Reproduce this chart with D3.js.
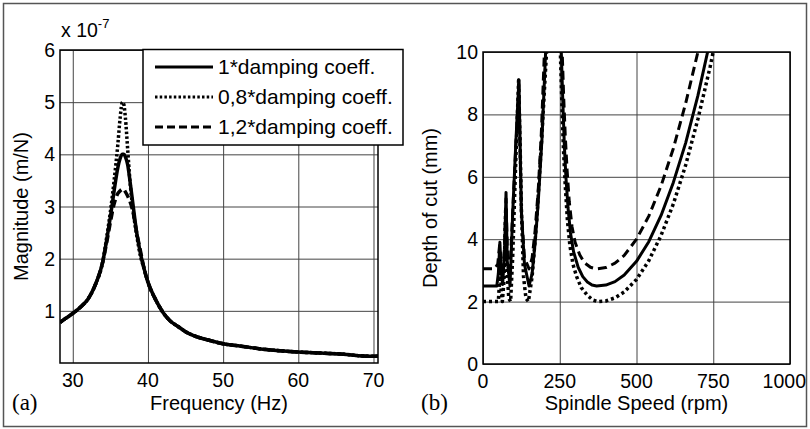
<!DOCTYPE html>
<html>
<head>
<meta charset="utf-8">
<script src="https://cdn.jsdelivr.net/npm/d3@7"></script>
<style>
  body { margin: 0; background: #fff; }
  text { font-family: Arial, "Liberation Sans", Helvetica, sans-serif; fill: #000; }
</style>
</head>
<body>
<div id="chart"></div>
<script>
// (a) frequency response, values in units of 1e-7 m/N
const freqHz = [28.3, 29, 30, 31, 32, 33, 34, 34.5, 35, 35.5, 36, 36.3, 36.6, 36.8, 37, 37.3, 37.6, 38, 38.5, 39, 39.5, 40, 41, 42, 43, 44, 45, 46, 48, 50, 52, 55, 58, 60, 63, 66, 68, 70, 70.6];
const magBase = [0.78, 0.85, 0.95, 1.07, 1.22, 1.5, 1.95, 2.35, 2.8, 3.3, 3.75, 3.92, 4.0, 4.0, 3.95, 3.8, 3.5, 3.05, 2.5, 2.1, 1.8, 1.55, 1.22, 0.97, 0.8, 0.7, 0.6, 0.53, 0.44, 0.37, 0.33, 0.27, 0.23, 0.21, 0.19, 0.17, 0.14, 0.13, 0.13];
const magLow = [0.78, 0.85, 0.95, 1.07, 1.22, 1.5, 1.95, 2.4, 2.9, 3.5, 4.2, 4.7, 5.0, 4.95, 4.7, 4.1, 3.5, 2.95, 2.45, 2.05, 1.8, 1.55, 1.22, 0.97, 0.8, 0.7, 0.6, 0.53, 0.44, 0.37, 0.33, 0.27, 0.23, 0.21, 0.19, 0.17, 0.14, 0.13, 0.13];
const magHigh = [0.78, 0.85, 0.95, 1.07, 1.22, 1.5, 1.95, 2.3, 2.7, 3.05, 3.25, 3.3, 3.33, 3.32, 3.28, 3.2, 3.1, 2.9, 2.5, 2.15, 1.8, 1.55, 1.22, 0.97, 0.8, 0.7, 0.6, 0.53, 0.44, 0.37, 0.33, 0.27, 0.23, 0.21, 0.19, 0.17, 0.14, 0.13, 0.13];

// (b) stability lobes
const speedBase = [0, 45, 50, 55, 59, 64, 70, 75, 79, 88, 97, 107, 117, 121, 125, 135, 150, 160, 170, 180, 192, 204, 212, 248, 255, 260, 265, 270, 277, 285, 295, 310, 325, 340, 355, 370, 400, 430, 460, 500, 540, 580, 620, 660, 700, 740];
const depthBase = [2.5, 2.5, 2.9, 3.9, 3.0, 2.55, 3.5, 5.5, 3.3, 2.5, 4.9, 7.1, 9.1, 7.0, 4.9, 3.2, 2.5, 2.9, 3.9, 5.2, 7.2, 10, 11.5, 11.5, 10, 8.4, 7.0, 6.0, 5.0, 4.2, 3.6, 3.1, 2.8, 2.63, 2.53, 2.5, 2.53, 2.64, 2.85, 3.29, 3.92, 4.76, 5.82, 7.08, 8.6, 10.37];
const speedLow = [0, 50, 53, 56, 59, 63, 68, 74, 78, 84, 90, 97, 105, 116, 121, 125, 132, 140, 148, 160, 175, 190, 207, 215, 245, 252, 257, 262, 268, 275, 283, 293, 305, 320, 340, 358, 375, 400, 430, 460, 500, 540, 580, 620, 660, 700, 740, 760];
const depthLow = [2.0, 2.0, 2.5, 3.6, 2.4, 2.0, 2.6, 5.0, 3.0, 2.1, 2.0, 3.5, 6.0, 9.1, 7.0, 5.0, 2.8, 2.1, 2.0, 2.8, 4.6, 7.0, 10, 11.5, 11.5, 10, 8.3, 6.9, 5.7, 4.6, 3.8, 3.2, 2.8, 2.45, 2.2, 2.05, 2.0, 2.02, 2.12, 2.31, 2.71, 3.31, 4.12, 5.13, 6.37, 7.85, 9.53, 10.5];
const speedHigh = [0, 38, 48, 54, 58, 64, 70, 75, 80, 88, 97, 107, 117, 121, 125, 135, 150, 160, 170, 180, 190, 200, 208, 250, 258, 263, 268, 274, 281, 290, 300, 315, 330, 350, 370, 400, 430, 460, 500, 540, 580, 620, 660, 700, 710];
const depthHigh = [3.05, 3.05, 3.2, 3.8, 3.2, 3.05, 3.7, 5.3, 3.4, 3.05, 4.9, 7.0, 8.9, 6.8, 4.9, 3.4, 3.05, 3.4, 4.3, 5.6, 7.4, 10, 11.5, 11.5, 10, 8.5, 7.3, 6.2, 5.2, 4.4, 3.9, 3.5, 3.25, 3.1, 3.05, 3.09, 3.23, 3.48, 4.0, 4.74, 5.71, 6.91, 8.35, 10.0, 10.5];

const legendLabels = ["1*damping coeff.", "0,8*damping coeff.", "1,2*damping coeff."];
const freqTicks = [30, 40, 50, 60, 70];
const magTicks = [1, 2, 3, 4, 5, 6];
const speedTicks = [0, 250, 500, 750, 1000];
const depthTicks = [0, 2, 4, 6, 8, 10];

// line styles: solid, dotted, dashed
const dashA = [null, "2.5,2.2", "8,4"];
const dashB = [null, "3,3", "9,5"];

let svg = d3
  .select("#chart")
  .append("svg")
  .attr("width", 810)
  .attr("height", 429);

// outer frame
svg
  .append("rect")
  .attr("x", 3.5)
  .attr("y", 3.5)
  .attr("width", 803)
  .attr("height", 423)
  .attr("fill", "none")
  .attr("stroke", "#555")
  .attr("stroke-width", 1.5);

function drawPanel(opts) {
  const x = d3.scaleLinear().domain(opts.xDomain).range([opts.left, opts.right]);
  const y = d3.scaleLinear().domain(opts.yDomain).range([opts.bottom, opts.top]);
  const g = svg.append("g");

  g.append("clipPath")
    .attr("id", opts.id + "-clip")
    .append("rect")
    .attr("x", opts.left)
    .attr("y", opts.top)
    .attr("width", opts.right - opts.left)
    .attr("height", opts.bottom - opts.top);

  // grid
  g.append("g")
    .attr("transform", "translate(0," + opts.bottom + ")")
    .call(d3.axisBottom(x).tickValues(opts.xTicks).tickSize(-(opts.bottom - opts.top)).tickFormat(""))
    .call((a) => a.select(".domain").remove())
    .selectAll("line")
    .attr("stroke", "#444")
    .attr("stroke-width", 1);
  g.append("g")
    .attr("transform", "translate(" + opts.left + ",0)")
    .call(d3.axisLeft(y).tickValues(opts.yTicks).tickSize(-(opts.right - opts.left)).tickFormat(""))
    .call((a) => a.select(".domain").remove())
    .selectAll("line")
    .attr("stroke", "#444")
    .attr("stroke-width", 1);

  // curves
  const line = d3
    .line()
    .curve(opts.curve)
    .x((d) => x(d[0]))
    .y((d) => y(d[1]));
  opts.series.forEach((s, i) => {
    g.append("path")
      .datum(d3.zip(s[0], s[1]))
      .attr("clip-path", "url(#" + opts.id + "-clip)")
      .attr("fill", "none")
      .attr("stroke", "#000")
      .attr("stroke-width", opts.widths[i])
      .attr("stroke-linejoin", "round")
      .attr("stroke-dasharray", opts.dash[i])
      .attr("d", line);
  });

  // box
  g.append("rect")
    .attr("x", opts.left)
    .attr("y", opts.top)
    .attr("width", opts.right - opts.left)
    .attr("height", opts.bottom - opts.top)
    .attr("fill", "none")
    .attr("stroke", "#000")
    .attr("stroke-width", 1.5);

  // tick labels (last one kept inside the frame)
  const lastX = opts.xTicks[opts.xTicks.length - 1];
  g.selectAll(".xlab")
    .data(opts.xTicks)
    .enter()
    .append("text")
    .attr("x", (d) => (opts.clampLast && d === lastX ? 806 : x(d)))
    .attr("y", opts.bottom + 24)
    .attr("text-anchor", (d) => (opts.clampLast && d === lastX ? "end" : "middle"))
    .style("font-size", "19.5px")
    .text((d) => d);
  g.selectAll(".ylab")
    .data(opts.yTicks)
    .enter()
    .append("text")
    .attr("x", opts.left - 5)
    .attr("y", (d) => y(d) + 7)
    .attr("text-anchor", "end")
    .style("font-size", "19.5px")
    .text((d) => d);

  // axis titles
  g.append("text")
    .attr("x", (opts.left + opts.right) / 2)
    .attr("y", 410)
    .attr("text-anchor", "middle")
    .style("font-size", "20px")
    .text(opts.xTitle);
  g.append("text")
    .attr("transform", "translate(" + opts.yTitleX + "," + (opts.top + opts.bottom) / 2 + ") rotate(-90)")
    .attr("text-anchor", "middle")
    .style("font-size", "20px")
    .text(opts.yTitle);

  // panel letter
  g.append("text")
    .attr("x", opts.letterX)
    .attr("y", 410)
    .style("font-family", "'Liberation Serif', 'Times New Roman', serif")
    .style("font-size", "23px")
    .text(opts.letter);

  return { g, x, y };
}

// (a)
const panelA = drawPanel({
  id: "pa",
  left: 60, right: 378, top: 50, bottom: 363,
  xDomain: [28.3, 70.6], yDomain: [0, 6],
  xTicks: freqTicks, yTicks: magTicks,
  series: [[freqHz, magBase], [freqHz, magLow], [freqHz, magHigh]],
  widths: [3.5, 3.5, 3.5],
  dash: dashA,
  curve: d3.curveMonotoneX,
  xTitle: "Frequency (Hz)",
  yTitle: "Magnitude (m/N)",
  yTitleX: 28,
  letter: "(a)",
  letterX: 12,
});

// exponent label
const expo = panelA.g
  .append("text")
  .attr("x", 61)
  .attr("y", 37)
  .style("font-size", "19.5px");
expo.append("tspan").text("x 10");
expo.append("tspan").attr("dy", -9).style("font-size", "13px").text("-7");

// legend
const legend = panelA.g.append("g");
legend
  .append("rect")
  .attr("x", 143)
  .attr("y", 49.5)
  .attr("width", 260)
  .attr("height", 95.5)
  .attr("fill", "#fff")
  .attr("stroke", "#000")
  .attr("stroke-width", 1.5);
legendLabels.forEach((lab, i) => {
  const cy = 67 + i * 30;
  legend
    .append("line")
    .attr("x1", 155)
    .attr("x2", 213)
    .attr("y1", cy)
    .attr("y2", cy)
    .attr("stroke", "#000")
    .attr("stroke-width", 3)
    .attr("stroke-dasharray", dashA[i]);
  legend
    .append("text")
    .attr("x", 218)
    .attr("y", cy + 7)
    .style("font-size", "21px")
    .text(lab);
});

// (b)
drawPanel({
  id: "pb",
  left: 483, right: 790, top: 52, bottom: 364,
  xDomain: [0, 1000], yDomain: [0, 10],
  xTicks: speedTicks, yTicks: depthTicks,
  series: [[speedBase, depthBase], [speedLow, depthLow], [speedHigh, depthHigh]],
  widths: [3, 3.5, 3],
  dash: dashB,
  curve: d3.curveLinear,
  clampLast: true,
  xTitle: "Spindle Speed (rpm)",
  yTitle: "Depth of cut (mm)",
  yTitleX: 437,
  letter: "(b)",
  letterX: 421,
});
</script>
</body>
</html>
